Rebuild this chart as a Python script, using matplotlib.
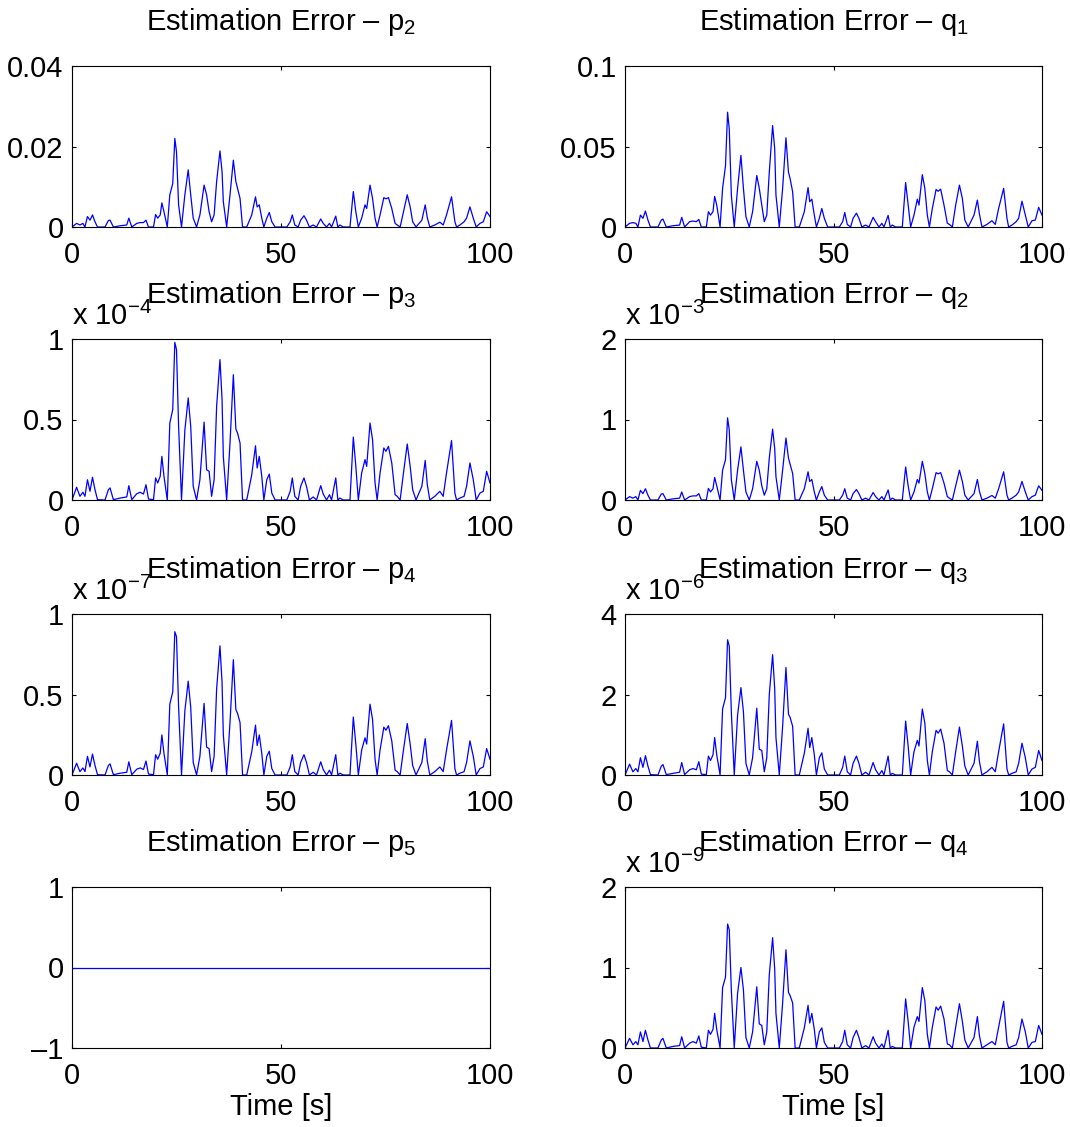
#!/usr/bin/env python3
"""Estimation error panels p2..p5 / q1..q4 -> out.png"""
import matplotlib
matplotlib.use("Agg")
import matplotlib.pyplot as plt

plt.rcParams["font.family"] = ["Liberation Sans", "DejaVu Sans"]
plt.rcParams["mathtext.fontset"] = "custom"
plt.rcParams["mathtext.rm"] = "Liberation Sans"
plt.rcParams["mathtext.it"] = "Liberation Sans:italic"
plt.rcParams["mathtext.default"] = "regular"

# ---------- data (time in s) ----------
T = [0.0, 1.1, 1.9, 2.6, 3.1, 3.7, 4.3, 4.9, 5.5, 6.1,
     7.9, 8.7, 9.1, 9.9, 11.5, 13.1, 13.6, 14.3, 15.5, 16.3,
     17.1, 17.7, 18.3, 19.5, 20.0, 20.5, 21.1, 21.5, 22.0, 22.8,
     23.4, 24.1, 24.6, 25.0, 25.5, 26.2, 27.0, 27.8, 28.4, 29.0,
     29.8, 30.6, 31.6, 32.2, 32.8, 33.4, 34.0, 34.6, 35.4, 35.9,
     36.2, 37.0, 37.8, 38.6, 39.2, 39.6, 40.2, 40.8, 41.8, 43.0,
     43.9, 44.3, 44.8, 45.4, 45.9, 46.6, 47.2, 47.8, 48.6, 51.4,
     52.2, 52.7, 53.3, 54.1, 54.7, 55.5, 56.1, 56.8, 57.7, 58.5,
     59.5, 60.1, 60.9, 61.6, 62.1, 63.1, 63.6, 64.1, 64.9, 66.5,
     67.3, 67.9, 68.5, 69.3, 70.1, 70.5, 71.3, 71.9, 72.5, 73.0,
     73.7, 74.6, 75.1, 75.7, 76.5, 77.3, 77.8, 78.5, 79.3, 80.2,
     80.9, 81.5, 82.3, 83.7, 84.5, 85.0, 85.6, 86.8, 88.0, 88.8,
     89.6, 90.8, 91.6, 92.0, 92.8, 93.8, 94.4, 95.2, 96.0, 96.7,
     97.6, 98.4, 99.2, 100.0]

P2 = [0, .0009, .0005, .0009, 0, .0026, .0017, .003, .0013, 0,
      0, .0016, .0017, 0, .0003, .0005, .0022, 0, .0009, .0011,
      .0011, .0017, 0, 0, .0031, .0022, .003, .006, .0038, 0,
      .008, .0108, .022, .0187, .0055, 0, .008, .0142, .008, .0022,
      0, .003, .0104, .008, .0038, .0013, .003, .0113, .0189, .0137,
      .0063, 0, .008, .0166, .0113, .0096, .0071, 0, 0, .003,
      .0075, .005, .0055, .0022, 0, .0022, .0036, .0013, 0, 0,
      .0013, .003, .0005, 0, .0017, .0028, .0017, 0, .0005, 0,
      .002, .0009, 0, .0009, 0, .0027, 0, .0005, 0, 0,
      .0088, .0038, 0, .0022, .0055, .0046, .0104, .0071, .0022, 0,
      .003, .0073, .007, .0073, .0046, .0009, .0005, 0, .0038, .008,
      .005, .0013, 0, .0017, .0055, .0023, 0, .0005, .0012, .0005,
      .003, .0075, .0013, 0, .0005, .0013, .0022, .005, .0022, 0,
      .0009, .0013, .0038, .0026]

Q1 = [0, .0023, .0027, .0023, 0, .0074, .0054, .0099, .0043, 0,
      0, .0043, .0049, 0, .0008, .0012, .006, 0, .0033, .0037,
      .0033, .0047, 0, 0, .0095, .0074, .0095, .019, .0136, 0,
      .024, .038, .0713, .061, .0198, 0, .024, .0445, .024, .0064,
      0, .0095, .032, .024, .0136, .0033, .0074, .034, .063, .0486,
      .0198, 0, .024, .0554, .034, .030, .0218, 0, 0, .0095,
      .0245, .0157, .0173, .0074, 0, .0054, .0115, .0054, 0, 0,
      .0033, .009, .0016, 0, .0054, .0086, .0054, 0, .0012, 0,
      .006, .0033, 0, .0023, 0, .0072, 0, .0012, 0, 0,
      .0276, .0136, 0, .0074, .0173, .0136, .0325, .024, .0074, 0,
      .0115, .0233, .0222, .0235, .0136, .0023, .0016, 0, .0136, .026,
      .0177, .0043, 0, .0074, .0167, .008, 0, .0016, .0039, .0016,
      .0115, .024, .0054, 0, .0012, .0033, .0054, .016, .0074, 0,
      .0039, .0043, .0122, .0074]

# mantissas, x 1e-4
P3 = [0, .079, .023, .048, .023, .126, .054, .141, .064, .002,
      0, .064, .075, .002, .012, .019, .089, .002, .039, .048,
      .037, .095, .006, .002, .137, .106, .147, .271, .147, 0,
      .478, .561, .979, .934, .458, 0, .433, .634, .458, .085,
      0, .126, .484, .188, .178, .023, .126, .582, .872, .623,
      .271, 0, .354, .778, .441, .416, .354, 0, 0, .157,
      .337, .199, .271, .147, 0, .126, .161, .043, 0, 0,
      .054, .137, .023, 0, .085, .137, .085, 0, .019, 0,
      .089, .037, 0, .033, 0, .137, 0, .012, 0, 0,
      .391, .209, 0, .168, .251, .209, .478, .375, .106, 0,
      .168, .323, .302, .333, .230, .033, .023, 0, .168, .348,
      .209, .064, 0, .085, .246, .095, 0, .023, .054, .023,
      .168, .369, .043, 0, .012, .023, .085, .230, .126, 0,
      .043, .054, .178, .106]

# x 1e-3
Q2 = [0, .042, .023, .042, 0, .12, .079, .14, .06, 0,
      0, .074, .079, 0, .014, .023, .10, 0, .042, .051,
      .051, .079, 0, 0, .144, .10, .14, .28, .176, 0,
      .37, .50, 1.02, .87, .255, 0, .37, .66, .37, .10,
      0, .14, .48, .37, .176, .06, .14, .52, .88, .64,
      .29, 0, .37, .77, .52, .445, .33, 0, 0, .14,
      .35, .23, .255, .10, 0, .10, .167, .06, 0, 0,
      .06, .14, .023, 0, .079, .13, .079, 0, .023, 0,
      .093, .042, 0, .042, 0, .125, 0, .023, 0, 0,
      .41, .176, 0, .10, .255, .21, .48, .33, .10, 0,
      .14, .34, .325, .34, .21, .042, .023, 0, .176, .37,
      .23, .06, 0, .079, .255, .107, 0, .023, .056, .023,
      .14, .35, .06, 0, .023, .06, .10, .23, .10, 0,
      .042, .06, .176, .12]

# x 1e-7
P4 = [0, .073, .021, .044, .021, .116, .050, .130, .059, .002,
      0, .059, .069, .002, .011, .017, .082, .002, .036, .044,
      .034, .087, .006, .002, .126, .098, .135, .249, .135, 0,
      .440, .516, .890, .859, .421, 0, .398, .583, .421, .078,
      0, .116, .445, .173, .164, .021, .116, .535, .802, .573,
      .249, 0, .326, .716, .406, .383, .326, 0, 0, .144,
      .310, .183, .249, .135, 0, .116, .148, .040, 0, 0,
      .050, .126, .021, 0, .078, .126, .078, 0, .017, 0,
      .082, .034, 0, .030, 0, .126, 0, .011, 0, 0,
      .360, .192, 0, .155, .231, .192, .440, .345, .098, 0,
      .155, .297, .278, .306, .212, .030, .021, 0, .155, .320,
      .192, .059, 0, .078, .226, .087, 0, .021, .050, .021,
      .155, .339, .040, 0, .011, .021, .078, .212, .116, 0,
      .040, .050, .164, .098]

# x 1e-6
Q3 = [0, .27, .08, .16, .08, .43, .19, .48, .22, .01,
      0, .22, .26, .01, .04, .07, .31, .01, .13, .16,
      .13, .33, .02, .01, .47, .36, .50, .93, .50, 0,
      1.64, 1.92, 3.36, 3.20, 1.57, 0, 1.49, 2.17, 1.57, .29,
      0, .43, 1.66, .64, .61, .08, .43, 2.00, 2.99, 2.14,
      .93, 0, 1.21, 2.67, 1.51, 1.43, 1.21, 0, 0, .54,
      1.16, .68, .93, .50, 0, .43, .55, .15, 0, 0,
      .19, .47, .08, 0, .29, .47, .29, 0, .07, 0,
      .31, .13, 0, .11, 0, .47, 0, .04, 0, 0,
      1.34, .72, 0, .58, .86, .72, 1.64, 1.29, .36, 0,
      .58, 1.11, 1.04, 1.14, .79, .11, .08, 0, .58, 1.19,
      .72, .22, 0, .29, .84, .33, 0, .08, .19, .08,
      .58, 1.27, .15, 0, .04, .08, .29, .79, .43, 0,
      .15, .19, .61, .36]

P5_T = [0.0, 100.0]
P5 = [0.0, 0.0]

# x 1e-9
Q4 = [0, .12, .04, .08, .04, .20, .08, .22, .10, 0,
      0, .10, .12, 0, .02, .03, .14, 0, .06, .08,
      .06, .15, .01, 0, .22, .17, .23, .43, .23, 0,
      .75, .88, 1.54, 1.47, .72, 0, .68, 1.00, .72, .13,
      0, .20, .76, .30, .28, .04, .20, .91, 1.37, .98,
      .43, 0, .56, 1.22, .69, .65, .56, 0, 0, .25,
      .53, .31, .43, .23, 0, .20, .25, .07, 0, 0,
      .08, .22, .04, 0, .13, .22, .13, 0, .03, 0,
      .14, .06, 0, .05, 0, .22, 0, .02, 0, 0,
      .61, .33, 0, .26, .39, .33, .75, .59, .17, 0,
      .26, .51, .47, .52, .36, .05, .04, 0, .26, .55,
      .33, .10, 0, .13, .39, .15, 0, .04, .08, .04,
      .26, .58, .07, 0, .02, .04, .13, .36, .20, 0,
      .07, .08, .28, .17]

# (col, row, t, y, symbol, subscript, ylim, yticks, yticklabels, exponent)
PANELS = [
    (0, 0, T, P2, "p", "2", (0, 0.04), [0, 0.02, 0.04], ["0", "0.02", "0.04"], None),
    (1, 0, T, Q1, "q", "1", (0, 0.1), [0, 0.05, 0.1], ["0", "0.05", "0.1"], None),
    (0, 1, T, P3, "p", "3", (0, 1), [0, 0.5, 1], ["0", "0.5", "1"], -4),
    (1, 1, T, Q2, "q", "2", (0, 2), [0, 1, 2], ["0", "1", "2"], -3),
    (0, 2, T, P4, "p", "4", (0, 1), [0, 0.5, 1], ["0", "0.5", "1"], -7),
    (1, 2, T, Q3, "q", "3", (0, 4), [0, 2, 4], ["0", "2", "4"], -6),
    (0, 3, P5_T, P5, "p", "5", (-1, 1), [-1, 0, 1], ["\u20131", "0", "1"], None),
    (1, 3, T, Q4, "q", "4", (0, 2), [0, 1, 2], ["0", "1", "2"], -9),
]

W, H = 1070, 1127
LEFT = [72, 625]; AW = [418, 417]
TOP = [66, 339, 614, 887]; AH = 161
FS = 21

fig = plt.figure(figsize=(W / 100, H / 100), dpi=100)
for col, row, t, y, sym, sub, ylim, yt, ytl, ex in PANELS:
    ax = fig.add_axes([LEFT[col] / W, 1 - (TOP[row] + AH) / H, AW[col] / W, AH / H])
    ax.plot(t, y, color="#0000ff", lw=0.9)
    ax.set_xlim(0, 100); ax.set_ylim(*ylim)
    ax.set_xticks([0, 50, 100]); ax.set_xticklabels(["0", "50", "100"])
    ax.set_yticks(yt); ax.set_yticklabels(ytl)
    ax.tick_params(direction="in", length=3, width=0.8, top=True, right=True, labelsize=FS)
    ax.tick_params(axis="x", pad=10)
    ax.tick_params(axis="y", pad=6)
    for s in ax.spines.values(): s.set_linewidth(0.8)
    ax.set_title("Estimation Error \u2013 %s$_{%s}$" % (sym, sub), fontsize=FS, pad=26)
    if ex is not None:
        ax.annotate("x 10$^{%d}$" % ex, xy=(0, 1), xycoords="axes fraction",
                    xytext=(0, 10), textcoords="offset points",
                    ha="left", va="baseline", fontsize=FS)
    if row == 3:
        ax.set_xlabel("Time [s]", fontsize=FS, labelpad=2)

fig.savefig("out.png", dpi=100)
